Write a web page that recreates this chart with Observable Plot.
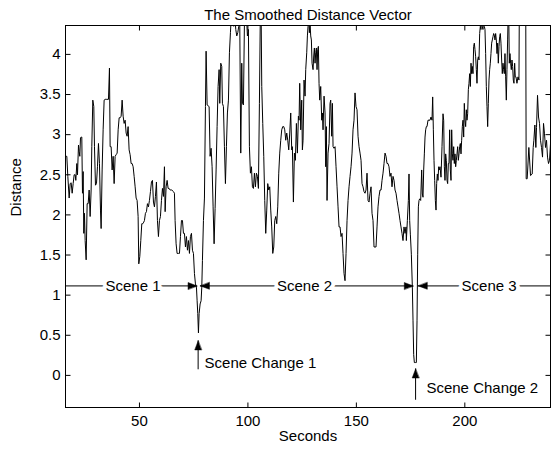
<!DOCTYPE html>
<html>
<head>
<meta charset="utf-8">
<script src="https://cdn.jsdelivr.net/npm/d3@7"></script>
<script src="https://cdn.jsdelivr.net/npm/@observablehq/plot@0.6"></script>
<style>
  body { margin: 0; background: #fff; }
</style>
</head>
<body>
<div id="chart"></div>
<script>
const seconds = [
  15.74,16.51,16.97,17.59,18.05,18.51,18.97,19.43,19.89,20.35,20.66,21.12,21.43,21.89,22.19,22.50,22.81,23.12,23.42,23.73,
  24.04,24.34,24.65,24.96,25.42,25.88,26.34,26.80,27.26,27.72,28.03,28.49,28.95,29.26,29.72,30.18,30.64,31.10,31.56,32.03,
  32.33,32.79,33.25,33.71,34.18,34.94,35.71,36.17,36.48,36.94,37.40,37.86,38.32,38.78,39.24,39.71,40.17,40.63,41.09,41.55,
  42.01,42.47,42.93,43.39,43.85,44.31,44.77,45.23,45.70,46.16,46.62,47.08,47.54,48.00,48.46,48.92,49.38,49.69,50.15,50.61,
  51.07,51.53,51.99,52.30,52.76,53.22,53.68,54.14,54.60,55.07,55.53,55.99,56.45,56.91,57.37,57.83,58.29,58.75,59.21,59.67,
  60.14,60.60,61.06,61.52,61.83,62.29,62.75,63.21,63.67,64.13,64.90,65.67,66.13,66.43,66.89,67.35,67.97,
  68.44,68.90,69.36,69.82,70.28,70.74,71.20,71.66,72.12,72.58,73.04,73.50,73.97,74.43,74.89,75.35,75.81,76.27,76.58,76.88,
  77.19,77.50,77.96,78.42,78.73,79.03,79.50,79.96,80.42,80.72,81.19,81.65,82.11,82.57,83.03,83.49,83.95,84.41,84.87,85.33,
  85.79,86.25,86.72,87.02,87.48,87.94,88.25,88.71,89.17,89.63,90.09,90.55,91.02,91.48,91.94,92.40,93.01,93.47,93.93,94.40,
  94.86,95.32,95.78,96.24,96.70,97.16,97.47,97.93,98.39,98.85,99.31,99.77,100.23,100.69,101.15,101.62,102.08,102.54,103.00,103.46,
  103.92,104.38,104.84,105.30,105.76,106.07,106.38,106.84,107.30,107.76,108.22,108.68,109.14,109.60,110.06,110.52,110.98,111.45,111.91,112.37,
  112.83,113.29,113.75,114.21,114.67,115.13,115.59,116.05,116.52,116.98,117.44,117.90,118.36,118.82,119.28,119.74,120.20,
  120.50,120.97,121.43,121.89,122.35,122.81,123.27,123.58,123.88,124.35,124.81,125.11,125.42,125.88,126.34,126.65,127.11,127.42,127.72,128.03,
  128.34,128.65,128.95,129.26,129.57,130.03,130.34,130.64,130.95,131.26,131.56,131.87,132.18,132.49,132.79,133.10,133.56,134.02,134.33,134.64,
  135.10,135.56,135.87,136.17,136.48,136.94,137.40,137.86,138.17,138.63,138.94,139.25,139.71,140.17,140.63,141.09,141.55,142.01,142.47,142.93,
  143.39,143.85,144.31,144.77,145.24,145.70,146.16,146.62,147.08,147.54,148.00,148.46,148.92,149.38,149.84,150.30,150.77,151.23,151.69,152.15,
  152.61,153.07,153.53,153.99,154.45,154.91,155.37,155.84,156.30,156.76,157.22,157.68,158.14,158.60,159.06,159.52,159.98,160.44,160.90,161.37,
  161.83,162.29,162.75,163.21,163.67,164.13,164.59,165.05,165.51,165.97,166.43,166.90,167.36,167.82,168.28,168.74,169.20,169.66,170.12,170.58,
  171.04,171.50,171.96,172.43,172.89,
  173.04,173.51,173.97,174.27,174.58,174.89,175.35,175.81,176.12,176.42,176.73,177.19,177.65,177.96,178.27,178.58,178.88,179.19,179.65,180.11,
  180.42,180.73,181.03,181.34,181.65,181.95,182.26,182.57,183.03,183.49,183.95,184.41,184.87,185.18,185.49,185.79,186.10,186.41,186.72,187.02,
  187.33,187.64,187.95,188.25,188.56,189.02,189.48,189.94,190.25,190.56,190.86,191.17,191.48,191.79,192.09,192.40,192.71,193.01,193.32,193.63,
  193.94,194.24,194.55,194.86,195.16,195.47,195.78,196.09,196.39,196.70,197.01,197.32,197.62,197.93,198.24,198.54,198.85,199.16,199.47,199.77,
  200.08,200.39,200.70,201.00,201.31,201.62,201.92,202.23,202.54,202.85,203.15,203.46,203.77,204.07,204.38,204.69,205.00,205.30,205.61,205.92,
  206.22,206.53,206.84,207.15,207.45,207.76,208.07,208.37,208.68,208.99,209.30,209.60,209.91,210.22,210.53,210.83,211.14,211.45,211.75,212.06,
  212.37,212.68,212.98,213.29,213.60,213.90,214.21,214.52,214.83,215.13,215.44,215.75,216.06,216.36,216.67,216.98,217.28,217.59,217.90,218.21,
  218.51,218.82,219.13,219.43,219.74,220.05,220.20,220.51,220.82,221.12,221.43,221.74,222.05,222.35,222.66,222.97,223.27,223.58,224.04,224.50,
  224.96,225.30,228.00,228.29,228.75,229.52,230.29,231.06,231.52,231.83,232.29,232.75,233.06,233.52,233.98,234.44,234.90,235.36,235.82,236.28,
  236.74,237.20,237.67,238.13,238.59,239.05,239.51
];
const distance = [
  2.73,2.73,2.48,2.21,2.39,2.40,2.27,2.39,2.50,2.50,2.43,2.64,2.50,2.87,2.79,2.73,2.96,2.97,2.97,2.27,
  2.54,1.77,2.02,1.68,1.44,2.14,2.14,2.31,1.98,2.31,2.85,3.43,3.35,2.85,2.37,2.39,2.60,2.89,2.64,2.06,
  1.83,2.56,3.06,3.43,3.44,3.44,3.44,3.83,2.85,2.85,2.56,2.73,2.39,2.73,2.75,2.77,3.06,3.21,3.21,3.23,
  3.43,3.23,3.14,3.18,3.02,2.98,3.10,2.81,2.75,2.64,2.64,2.60,2.48,2.35,2.21,2.18,1.98,1.39,1.48,1.68,
  1.89,1.89,1.91,1.93,2.02,2.04,2.14,2.10,2.18,2.29,2.41,2.43,2.16,2.10,2.23,2.41,1.93,1.73,1.93,1.98,
  2.18,2.33,2.23,2.60,2.04,2.35,2.43,2.33,2.33,2.31,2.31,2.29,2.27,1.93,1.64,1.52,1.52,
  1.52,1.73,1.93,1.93,1.77,1.77,1.60,1.73,1.56,1.68,1.52,1.73,1.77,1.56,1.52,1.27,1.14,1.10,0.93,0.77,
  0.53,0.77,0.89,0.93,1.10,1.43,1.93,2.21,3.35,4.04,3.37,3.36,3.35,2.73,2.83,2.60,2.10,1.64,2.08,2.56,
  3.10,3.60,3.81,3.39,3.89,3.85,3.39,3.35,2.85,2.39,2.85,3.27,3.43,4.02,4.27,4.50,4.60,4.35,4.50,4.31,
  4.23,4.27,4.35,4.39,2.77,3.89,3.39,3.37,4.39,4.50,4.50,4.23,4.31,2.85,2.52,2.60,2.35,2.33,2.52,2.35,
  2.52,2.48,2.33,3.39,4.60,4.60,3.60,3.14,2.73,2.18,1.77,2.06,2.39,2.31,2.35,2.06,1.85,1.52,1.60,1.93,
  1.98,1.89,2.10,2.52,2.77,2.93,3.06,3.10,3.10,3.06,2.93,3.02,2.93,2.81,3.02,3.27,2.81,
  2.85,2.16,2.77,2.68,3.14,2.77,3.23,3.18,3.64,3.06,3.43,2.81,2.93,3.68,3.48,3.81,4.02,4.23,4.35,4.45,
  4.27,4.39,4.23,4.18,3.89,3.81,3.98,4.08,3.89,4.02,4.08,3.81,4.06,4.10,3.64,3.43,3.60,3.18,3.27,3.06,
  3.48,3.27,2.60,3.10,2.18,2.77,2.89,3.39,3.43,2.98,3.39,2.85,2.83,2.85,2.60,2.35,2.10,1.85,1.85,1.73,
  1.77,1.52,1.27,1.18,1.52,1.93,2.18,2.35,2.48,2.60,2.77,3.06,3.18,3.52,3.35,3.31,2.98,2.85,2.77,2.68,
  2.39,2.35,2.29,2.27,2.31,2.52,2.18,2.16,2.27,2.35,2.02,1.93,1.60,1.60,1.60,1.85,2.10,2.23,2.31,2.31,
  2.43,2.52,2.64,2.77,2.73,2.64,2.64,2.60,2.48,2.52,2.35,2.48,2.43,2.31,2.27,2.18,2.10,2.02,1.93,1.85,
  1.77,1.68,1.85,1.77,1.85,
  1.68,1.93,2.18,2.51,1.93,1.76,1.51,1.10,0.68,0.26,0.16,0.16,0.16,0.68,1.51,2.10,2.18,2.20,2.18,2.56,
  2.26,2.22,2.56,2.76,2.97,3.06,3.10,3.10,3.18,3.18,3.18,3.22,3.18,3.47,3.06,2.68,2.43,2.18,2.06,2.39,
  2.51,2.43,2.60,2.56,2.60,2.47,2.85,3.26,3.18,2.60,2.43,2.76,2.68,2.43,2.39,2.64,2.64,3.06,2.56,2.43,
  3.06,2.76,2.68,2.85,2.64,2.76,2.60,2.68,2.76,2.85,2.68,2.76,2.85,2.89,2.76,2.93,3.10,3.18,2.97,3.39,
  3.18,3.10,3.31,3.18,3.26,3.56,3.64,3.76,3.60,3.89,3.76,3.85,3.76,4.10,4.14,4.06,3.97,3.81,3.64,3.93,
  3.97,3.93,4.26,4.35,4.31,4.45,4.35,4.31,4.45,4.35,4.31,4.01,3.60,3.35,3.10,3.39,3.68,3.81,3.89,4.01,
  4.14,4.18,4.22,4.26,4.24,4.18,4.26,4.18,4.01,4.14,3.89,4.10,4.22,4.26,4.14,3.93,3.76,3.89,3.81,3.76,
  4.01,3.72,3.43,3.81,4.18,4.60,4.60,3.89,4.01,3.89,3.81,3.93,3.85,3.68,3.64,3.89,3.72,3.72,3.64,3.72,
  3.68,5.50,5.50,2.45,2.45,2.84,2.49,2.51,2.84,2.93,3.12,2.84,3.09,3.49,3.22,3.14,2.93,2.84,2.72,3.14,
  3.01,2.84,2.93,2.72,2.64,2.68,2.89
];

const xTicks = [50, 100, 150, 200];
const yTicks = [0, 0.5, 1, 1.5, 2, 2.5, 3, 3.5, 4];
const xDomain = [15.9, 239.5];
const yDomain = [-0.4, 4.36];

const titleText = "The Smoothed Distance Vector";
const xLabel = "Seconds";
const yLabel = "Distance";

const sceneNames = ["Scene 1", "Scene 2", "Scene 3"];
const sceneLabelX = [47.0, 126.1, 211.2];
const sceneStart = [15.9, 78.1, 178.55];
const sceneEnd = [76.55, 176.25, 239.5];
const sceneLevel = 1.115;
const headX = [76.55, 78.1, 176.25, 178.55];
const headAngle = [90, -90, 90, -90];

const changeNames = ["Scene Change 1", "Scene Change 2"];
const changeX = [77.05, 177.3];
const changeTail = [0.07, -0.31];
const changeTip = [0.43, 0.08];
const changeLabelX = [80.0, 182.3];
const changeLabelY = [0.156, -0.164];

// build tables
const series = seconds.map((s, i) => ({s, d: distance[i]}));
const scenes = sceneNames.map((n, i) => ({n, lx: sceneLabelX[i], x1: sceneStart[i], x2: sceneEnd[i]}));
const heads = headX.map((x, i) => ({x, a: headAngle[i]}));
const changes = changeNames.map((n, i) => ({n, x: changeX[i], y1: changeTail[i], y2: changeTip[i], lx: changeLabelX[i], ly: changeLabelY[i]}));

const tickShape = {draw(ctx, l) { ctx.moveTo(0, 0); ctx.lineTo(0, -l); }};
const headShape = {draw(ctx, l) { ctx.moveTo(0, -l); ctx.lineTo(-3.4, 0); ctx.lineTo(3.4, 0); ctx.closePath(); }};
const tickOpts = {shape: tickShape, length: 5, anchor: "start", stroke: "black", strokeWidth: 1, strokeLinecap: "butt"};

const chart = Plot.plot({
  width: 556,
  height: 453,
  marginLeft: 65,
  marginRight: 6,
  marginTop: 25,
  marginBottom: 46,
  x: {domain: xDomain},
  y: {domain: yDomain},
  style: {fontFamily: "'Liberation Sans', Arial, sans-serif", fontSize: "15px", color: "black", background: "white"},
  marks: [
    Plot.line(series, {x: "s", y: "d", stroke: "black", strokeWidth: 1, clip: true}),
    // scene lines
    Plot.ruleY(scenes, {y: () => sceneLevel, x1: "x1", x2: "x2", stroke: "black", strokeWidth: 1}),
    Plot.text(scenes, {x: "lx", y: () => sceneLevel, text: "n", fill: "black", stroke: "white", strokeWidth: 8}),
    Plot.vector(heads, {x: "x", y: () => sceneLevel, rotate: "a", length: 9, anchor: "end", shape: headShape, fill: "black", stroke: "black", strokeWidth: 0.5}),
    // scene change arrows
    Plot.ruleX(changes, {x: "x", y1: "y1", y2: "y2", stroke: "black", strokeWidth: 1}),
    Plot.vector(changes, {x: "x", y: "y2", rotate: 0, length: 9, anchor: "end", shape: headShape, fill: "black", stroke: "black", strokeWidth: 0.5}),
    Plot.text(changes, {x: "lx", y: "ly", text: "n", textAnchor: "start", fill: "black"}),
    // frame and inward ticks
    Plot.frame({stroke: "black", strokeWidth: 1}),
    Plot.vector(xTicks, {x: d => d, frameAnchor: "bottom", rotate: 0, ...tickOpts}),
    Plot.vector(xTicks, {x: d => d, frameAnchor: "top", rotate: 180, ...tickOpts}),
    Plot.vector(yTicks, {y: d => d, frameAnchor: "left", rotate: 90, ...tickOpts}),
    Plot.vector(yTicks, {y: d => d, frameAnchor: "right", rotate: -90, ...tickOpts}),
    // tick labels
    Plot.axisX({ticks: xTicks, tickSize: 0, tickPadding: 8, label: null, tickFormat: d => String(d)}),
    Plot.axisY({ticks: yTicks, tickSize: 0, tickPadding: 5, label: null, tickFormat: d => String(d)}),
    // titles
    Plot.text([titleText], {text: d => d, frameAnchor: "top", dy: -16, fill: "black"}),
    Plot.text([xLabel], {text: d => d, frameAnchor: "bottom", dy: 33, fill: "black"}),
    Plot.text([yLabel], {text: d => d, frameAnchor: "left", dx: -49, rotate: -90, fill: "black"})
  ]
});
document.getElementById("chart").appendChild(chart);
</script>
</body>
</html>
